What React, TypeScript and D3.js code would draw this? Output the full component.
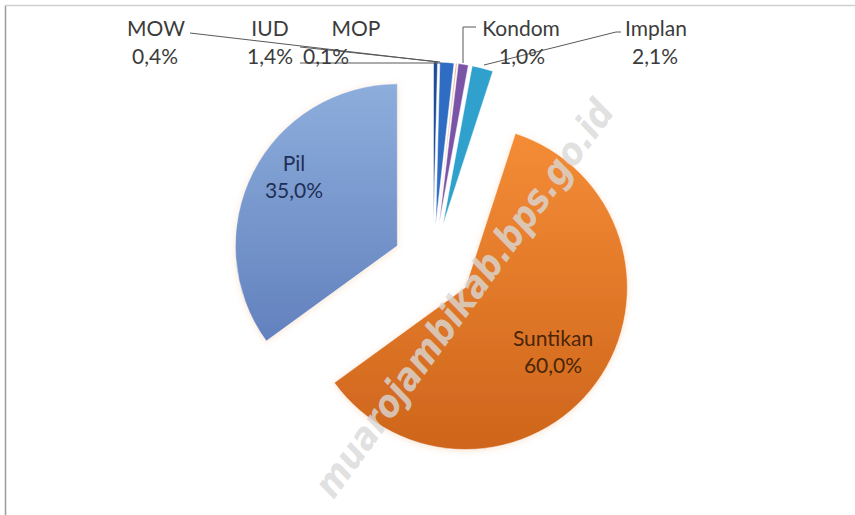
import React from "react";
import * as d3 from "d3";

// KB methods, share of users (%)
const methods = ["MOW", "IUD", "MOP", "Kondom", "Implan", "Suntikan", "Pil"];
const shares = [0.4, 1.4, 0.1, 1.0, 2.1, 60.0, 35.0];
const shareLabels = ["0,4%", "1,4%", "0,1%", "1,0%", "2,1%", "60,0%", "35,0%"];
const colors = ["#1F4C97", "#2F6CC4", "#E2733C", "#7A55A7", "#2FA1CC", "url(#gradSuntikan)", "url(#gradPil)"];

const W = 855;
const H = 515;
const cx = 433;
const cy = 264;
const radius = 162;
const explode = 40;

// outside labels: name x, value x, leader points
const outside: Record<string, { nx: number; vx: number; leader: [number, number][] }> = {
  MOW: { nx: 156, vx: 155, leader: [[190, 33], [438, 62]] },
  IUD: { nx: 270, vx: 270, leader: [[300, 47], [440, 62]] },
  MOP: { nx: 356, vx: 326, leader: [[300, 63], [441, 63]] },
  Kondom: { nx: 521, vx: 522, leader: [[463, 63], [463, 27], [476, 27]] },
  Implan: { nx: 656, vx: 655, leader: [[484, 65], [616, 32], [621, 32]] },
};

export default function App() {
  const pie = d3.pie<number>().sort(null).value((d) => d)(shares);
  const arc = d3.arc<d3.PieArcDatum<number>>().innerRadius(0).outerRadius(radius);
  const font = "Lato, 'Open Sans', sans-serif";

  return (
    <svg width={W} height={H} style={{ position: "absolute", left: 0, top: 0, background: "#fff" }}>
      <defs>
        <linearGradient id="gradPil" x1="0" y1="0" x2="0" y2="1">
          <stop offset="0%" stopColor="#8DAEDC" />
          <stop offset="100%" stopColor="#6281BE" />
        </linearGradient>
        <linearGradient id="gradSuntikan" x1="0" y1="0" x2="0" y2="1">
          <stop offset="0%" stopColor="#F48C36" />
          <stop offset="100%" stopColor="#CE651C" />
        </linearGradient>
        <filter id="soft" x="-20%" y="-20%" width="140%" height="140%">
          <feGaussianBlur in="SourceAlpha" stdDeviation="3" />
          <feOffset dx="0" dy="1" result="b" />
          <feFlood floodColor="#F2B27A" floodOpacity="0.35" />
          <feComposite in2="b" operator="in" />
          <feMerge>
            <feMergeNode />
            <feMergeNode in="SourceGraphic" />
          </feMerge>
        </filter>
      </defs>

      {/* chart frame */}
      <line x1={5.5} y1={5} x2={5.5} y2={H} stroke="#9a9a9a" strokeWidth={1.5} />
      <line x1={5} y1={5.5} x2={W} y2={5.5} stroke="#d0d0d0" strokeWidth={1.5} />

      {/* slices */}
      <g>
        {pie.map((d, i) => {
          const mid = (d.startAngle + d.endAngle) / 2;
          const dx = Math.sin(mid) * explode;
          const dy = -Math.cos(mid) * explode;
          return (
            <path
              key={methods[i]}
              d={arc(d) ?? ""}
              transform={`translate(${cx + dx},${cy + dy})`}
              fill={colors[i]}
              stroke="#fff"
              strokeWidth={0.5}
              filter={i >= 5 ? "url(#soft)" : undefined}
            />
          );
        })}
      </g>

      {/* leader lines */}
      {methods.slice(0, 5).map((m) => (
        <polyline
          key={m}
          points={outside[m].leader.map((p) => p.join(",")).join(" ")}
          fill="none"
          stroke="#595959"
          strokeWidth={1}
        />
      ))}

      {/* outside labels */}
      <g fontFamily={font} fontSize={21} fill="#3c3c3c" textAnchor="middle">
        {methods.slice(0, 5).map((m, i) => (
          <g key={m}>
            <text x={outside[m].nx} y={36}>{m}</text>
            <text x={outside[m].vx} y={64}>{shareLabels[i]}</text>
          </g>
        ))}
      </g>

      {/* inside labels */}
      <g fontFamily={font} fontSize={21} textAnchor="middle">
        <text x={294} y={171} fill="#1F2F55">{methods[6]}</text>
        <text x={294} y={198} fill="#1F2F55">{shareLabels[6]}</text>
        <text x={553} y={346} fill="#4A2506">{methods[5]}</text>
        <text x={553} y={373} fill="#4A2506">{shareLabels[5]}</text>
      </g>

      {/* watermark */}
      <text
        x={0}
        y={0}
        transform="translate(466,300) rotate(-54)"
        textAnchor="middle"
        dominantBaseline="middle"
        fontFamily="'DejaVu Sans', sans-serif"
        fontWeight="bold"
        fontStyle="italic"
        fontSize={38}
        textLength={480}
        lengthAdjust="spacingAndGlyphs"
        fill="#d9d9d9"
        fillOpacity={0.8}
      >
        muarojambikab.bps.go.id
      </text>
    </svg>
  );
}
